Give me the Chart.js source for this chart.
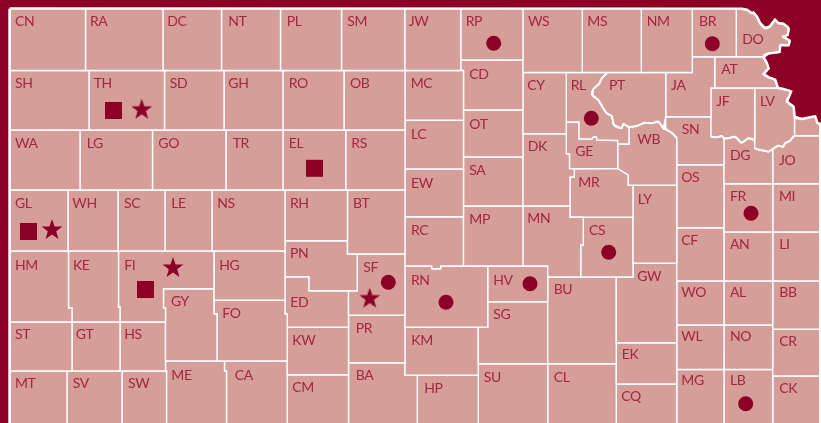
<!DOCTYPE html>
<html>
<head>
<meta charset="utf-8">
<style>
  html, body { margin: 0; padding: 0; background: #8c0026; }
  canvas { display: block; }
</style>
<script src="https://cdn.jsdelivr.net/npm/chart.js@4"></script>
</head>
<body>
<canvas id="mapChart" width="821" height="423"></canvas>
<script>
// river stretches, shared by the counties on both sides
const riverDO = [[741.7,9],[746.7,10],[751.7,13.3],[753.3,12.7],[756.7,16.7],[760,23.3],[765,28.3],[770,26.7],[775,20],[778.3,23.3],[783.3,24],[788.3,28.3],[787.3,35],[782.7,36.7],[789.3,40.7],[788.3,45],[780,45],[779.3,51.7],[768.3,53.3],[763.3,56.7]];
const riverAT = [[766.7,63.3],[768.3,68.3],[763.3,74],[768.3,77.3],[775,80],[777.3,86.7],[777.5,88]];
const riverLV = [[783.3,89.3],[790.7,91.7],[786.7,101.7],[793.3,106.7],[794.5,117]];
const riverWY = [[801.7,119.3],[806.7,118.3],[815,116.7],[817.3,123.3],[819.7,124]];
const riverPT = [[607.7,72.5],[601.7,78.3],[599.3,83.3],[593.3,89.3],[592.3,95],[598.3,100],[602.7,107.3],[606.7,113.3],[611.7,116],[614,125],[621.7,128.3],[623.3,124],[629,127]];
const riverWB = [[636.7,126],[645,122.7],[651.7,123.3],[658.3,121.7],[663.3,128.3],[667,130],[672,133],[676.7,138]];
const riverJF = [[711,136.7],[716.7,137.3],[721.7,136],[724,138.3]];
const riverDG = [[728.3,138.3],[735,136.7],[741.7,142.7],[748.3,138.3],[754.7,140]];
const riverLVs = [[754.7,148.3],[760,150],[765,150.7],[768.3,151.7],[772.7,149]];
const riverJO = [[778.3,145.7],[783.3,146.7],[785,143.3],[790,140.7],[793.3,136.7],[794.5,135.7]];

const countyNames = [
  'CN','RA','DC','NT','PL','SM','JW','RP','WS','MS','NM','BR','DO',
  'SH','TH','SD','GH','RO','OB','MC','CD','CY','RL','PT','JA','AT','JF','LV','',
  'WA','LG','GO','TR','EL','RS','LC','OT','DK','GE','WB','SN','DG','JO',
  'GL','WH','SC','LE','NS','RH','BT','EW','SA','MP','MN','MR','LY','OS','FR','MI',
  'RC','CS','CF','AN','LI',
  'HM','KE','FI','HG','PN','SF','RN','HV','GW','BU','GY','FO','ED','SG','WO','AL','BB',
  'ST','GT','HS','KW','PR','KM','EK','WL','NO','CR',
  'MT','SV','SW','ME','CA','CM','BA','HP','SU','CL','CQ','MG','LB','CK'
];

// two corners = a plain box, otherwise the full outline
const countyOutlines = [
  [[10.2,9],[85.5,70.5]], [[85.5,9],[163,70.5]], [[163,9],[221.5,70.5]], [[221.5,9],[280.5,70.5]],
  [[280.5,9],[341.5,70.5]], [[341.5,9],[404.7,70.5]], [[404.7,9],[460.7,70.5]], [[460.7,9],[523,60]],
  [[523,9],[582.3,72.5]], [[582.3,9],[641.3,72.5]], [[641.3,9],[692.3,72.5]], [[692.3,9],[736.3,56.7]],
  [[736.3,9],...riverDO,[736.3,56.7]],

  [[10.2,70.5],[89,130]], [[89,70.5],[164.5,130]], [[164.5,70.5],[224,130]], [[224,70.5],[283,130]],
  [[283,70.5],[344,130]], [[344,70.5],[405,130]], [[405,70.5],[463.5,120.3]],
  [[460.7,60],[523,60],[523,110],[463.5,110],[463.5,70.5],[460.7,70.5]],
  [[523,72.5],[566.3,133.7]],
  [[566.3,72.5],...riverPT,[629,144],[617.7,144],[617.7,140.5],[597,140],[596.5,137],[593,137],[592,139],[579,139],[579,122],[566.3,122]],
  [...riverPT,...riverWB.slice(0,5),[665.7,116.7],[665.7,72.5]],
  [[665.7,72.5],[692.3,72.5],[692.3,56.7],[714.7,56.7],[714.7,88],[711,88],[711,116.7],[665.7,116.7]],
  [[714.7,56.7],[763.3,56.7],...riverAT,[714.7,88]],
  [[711,88],[754.7,88],[754.7,140],...riverDG.slice().reverse().slice(1),...riverJF.slice().reverse()],
  [[754.7,88],[777.5,88],...riverLV,[794.5,135.7],...riverJO.slice().reverse(),[772.7,149],...riverLVs.slice().reverse(),[754.7,140]],
  [[794.5,117],...riverWY,[819.7,135.7],[794.5,135.7]],

  [[10.2,130],[80,190]], [[80,130],[152.5,190]], [[152.5,130],[226,190]], [[226,130],[283,190]],
  [[283,130],[345.7,190]], [[345.7,130],[405,190]], [[405,120.3],[463.5,169]], [[463.5,110],[523,157]],
  [[523,133.7],[566.3,133.7],[566.3,154],[569.5,154],[569.5,168.7],[574.3,168.7],[574.3,177],[570,177],[570,206],[523,206]],
  [[566.3,122],[579,122],[579,139],[592,139],[593,137],[596.5,137],[597,140],[617.7,140.5],[617.7,168.5],[569.5,168.7],[569.5,154],[566.3,154]],
  [[629,127],...riverWB,[676.7,185.3],[628.3,185.3],[628.3,175],[617.7,168.5],[617.7,144],[629,144]],
  [[665.7,116.7],[711,116.7],...riverJF,[724,164.7],[676.7,164.7],[676.7,138],[672,133],[667,130],[665.7,128]],
  [[724,138.3],...riverDG,[754.7,148.3],...riverLVs,[772.7,183.7],[724,183.7]],
  [[772.7,149],...riverJO,[819.7,135.7],[819.7,183.7],[772.7,183.7]],

  [[10.2,190],[68,251]], [[68,190],[118,251]], [[118,190],[165,251]], [[165,190],[212,251]], [[212,190],[285,251]],
  [[285,190],[347.5,240.7]], [[347.5,190],[405,254]], [[405,169],[463.5,216.7]], [[463.5,157],[523,206]],
  [[463.5,206],[523,266]],
  [[523,206],[570,206],[570,217.3],[583.3,217.3],[583.3,245],[580.7,245],[580.7,277],[547.7,277],[547.7,266],[523,266]],
  [[574.3,168.7],[617.7,168.5],[628.3,175],[628.3,185.3],[633,185.3],[633,217.3],[570,217.3],[570,177],[574.3,177]],
  [[633,185.3],[676.7,263.3]], [[676.7,164.7],[724,227.7]], [[724,183.7],[772.7,232]], [[772.7,183.7],[819.7,232]],

  [[405,216.7],[463.5,216.7],[463.5,266],[440.7,266],[440.7,268.7],[432,268.7],[431.7,266],[405,266]],
  [[583.3,217.3],[633,217.3],[633,277],[580.7,277],[580.7,245],[583.3,245]],
  [[676.7,227.7],[724,281]], [[724,232],[772.7,281]], [[772.7,232],[819.7,281]],

  [[10.2,251],[68.5,251],[68.5,308],[72,308],[72,322],[10.2,322]],
  [[68.5,251],[118.5,251],[118.5,307],[120,307],[120,322],[72,322],[72,308],[68.5,308]],
  [[118.5,251],[214,251],[214,288.7],[163.5,288.7],[163.5,308],[165.5,308],[165.5,322],[120,322],[120,307],[118.5,307]],
  [[214,251],[285,300.3]],
  [[285,240.7],[347.5,240.7],[347.5,254],[357.3,254],[357.3,290.7],[309,290.7],[309,276.7],[285,276.7]],
  [[357.3,254],[405,254],[405,315.3],[348.5,315.3],[348.5,290.7],[357.3,290.7]],
  [[405,266],[431.7,266],[432,268.7],[440.7,268.7],[440.7,266],[487.7,266],[487.7,327.3],[405,327.3]],
  [[487.7,266],[547.7,301.7]],
  [[633,263.3],[676.7,263.3],[676.7,342.7],[616.3,342.7],[616.3,277],[633,277]],
  [[547.7,277],[616.3,363.7]],
  [[163.5,288.7],[214,288.7],[214,314],[217,314],[217,361],[165.5,361],[165.5,308],[163.5,308]],
  [[214,300.3],[285,300.3],[285,314],[287.3,314],[287.3,361],[217,361],[217,314],[214,314]],
  [[285,276.7],[309,276.7],[309,290.7],[348.5,290.7],[348.5,327.3],[287.3,327.3],[287.3,314],[285,314]],
  [[487.7,301.7],[547.7,301.7],[547.7,363.7],[478.3,363.7],[478.3,327.3],[487.7,327.3]],
  [[676.7,281],[724,325]], [[724,281],[772.7,325]], [[772.7,281],[819.7,329.3]],

  [[10.2,322],[72,371]], [[72,322],[120,371]], [[120,322],[165.5,371]],
  [[287.3,327.3],[348.5,374.7]], [[348.5,315.3],[405,362.7]], [[405,327.3],[478.3,375.3]],
  [[616.3,342.7],[676.7,384]], [[676.7,325],[724,369.5]], [[724,325],[772.7,369.5]], [[772.7,329.3],[819.7,376]],

  [[10.2,371],[67,425]], [[67,371],[122,425]], [[122,371],[166.5,425]],
  [[165.5,361],[224.5,361],[224.5,371],[226.5,371],[226.5,425],[166.5,425],[166.5,371],[165.5,371]],
  [[224.5,361],[287.3,361],[287.3,425],[226.5,425],[226.5,371],[224.5,371]],
  [[287.3,374.7],[348.5,425]],
  [[348.5,362.7],[405,362.7],[405,375.3],[417.3,375.3],[417.3,425],[348.5,425]],
  [[417.3,375.3],[478.3,425]], [[478.3,363.7],[547.7,425]], [[547.7,363.7],[616.3,425]], [[616.3,384],[676.7,425]],
  [[676.7,369.5],[724,425]], [[724,369.5],[772.7,425]], [[772.7,376],[819.7,425]]
];

const stateOutline = [[9.8,8.8],...riverDO,...riverAT,...riverLV,...riverWY,[823,124],[823,427],[9.8,427]];

// the river lines sit on top of the county borders, a bit heavier
const riverLines = [
  [...riverDO,...riverAT,...riverLV,...riverWY],
  [...riverPT,...riverWB],
  [...riverJF,...riverDG],
  [...riverLVs,...riverJO]
];

const labelNames = ['CN','RA','DC','NT','PL','SM','JW','RP','WS','MS','NM','BR','DO','SH','TH','SD','GH','RO','OB','MC','CD','CY','RL','PT','JA','AT','JF','LV','WA','LG','GO','TR','EL','RS','LC','OT','DK','SN','WB','GE','DG','JO','EW','SA','MR','OS','LY','FR','MI','GL','WH','SC','LE','NS','RH','BT','MP','MN','RC','CS','HM','KE','FI','HG','PN','SF','RN','HV','BU','GW','CF','AN','LI','GY','FO','ED','SG','PR','KM','KW','WO','AL','BB','ST','GT','HS','WL','NO','CR','EK','MT','SV','SW','ME','CA','CM','BA','HP','SU','CL','MG','LB','CQ','CK'];
const labelX = [15,90,167.3,228.3,286.7,347.3,408.7,465.7,528,587.3,646.7,699,742.3,15,93.7,169.7,228.3,288.7,350,410.7,469.3,527.3,570.7,609,671,721.3,716.3,760,15,86.7,158.3,232.7,288.7,351.3,411,469.3,527.7,681.7,637.3,575.3,730,779,411,469.3,578.3,681.3,637.7,730,779,15,72.3,124,171.3,217.3,290,353,469.3,527.3,411,589,15,73,124.3,219.3,290,363.3,411,493.3,553.7,637.3,681.3,730,779.3,171,222.3,290.3,493.3,355.7,411.3,292.3,681.3,730,779.3,15,75.7,124.3,681.3,730,779.3,621.7,15,72.7,128,171.3,234.7,292.3,355.7,424.3,483.7,553.7,681.3,730,621.3,779.3];
const labelY = [26,26,26,26,26,26,26,26,26,26,26,26,44,88,88,88,88,88,88,88,79,90,90,90,90,74,106,106,148,148,148,148,148,148,139,129,151,134,144,156,160,165,188,175,187,182,204,201,201,208,208,208,208,208,208,208,224,223,235,235,270,270,270,270,258,272,285,285,294,281,245,249,249,306,318,307,319,333,345,345,297,297,297,339,339,339,341,341,346,359,388,388,388,380,380,392,380,393,382,382,385,385,401,393];

const squareX = [113.5,314.5,28.5,145.5];
const squareY = [110.5,168.3,231.5,289.5];
const starX = [141.7,52,173,369.7];
const starY = [109.8,230,268,298.6];
const circleX = [493.7,712.3,591.3,388.3,446,530,751,608.7,745.7];
const circleY = [43.3,43.7,118.3,282.3,302.3,283.7,213.3,252.3,403.7];

const darkRed = '#8c0026';
const countyPink = '#d59e98';
const labelRed = '#a52641';

function toPoints(outline) {
  let pts = outline;
  if (outline.length === 2) {
    const [a, b] = outline;
    pts = [a, [b[0], a[1]], b, [a[0], b[1]]];
  }
  pts = pts.concat([pts[0]]);
  return pts.map(p => ({ x: p[0], y: p[1] }));
}

function zipXY(xs, ys) {
  return xs.map((x, i) => ({ x: x, y: ys[i] }));
}

// chart.js only has an asterisk 'star', so the filled one goes on a small canvas
function makeStar(outerR, innerR) {
  const c = document.createElement('canvas');
  c.width = 26;
  c.height = 26;
  const g = c.getContext('2d');
  g.fillStyle = darkRed;
  g.beginPath();
  for (let i = 0; i < 10; i++) {
    const r = i % 2 ? innerR : outerR;
    const a = -Math.PI / 2 + i * Math.PI / 5;
    g.lineTo(13 + r * Math.cos(a), 13 + r * Math.sin(a));
  }
  g.closePath();
  g.fill();
  return c;
}

const countyLabels = {
  id: 'countyLabels',
  afterDatasetsDraw(chart) {
    const { ctx, scales } = chart;
    ctx.save();
    ctx.font = '14px Lato';
    ctx.letterSpacing = '-0.4px';
    ctx.fillStyle = labelRed;
    ctx.textAlign = 'left';
    ctx.textBaseline = 'alphabetic';
    labelNames.forEach((name, i) => {
      ctx.fillText(name, scales.x.getPixelForValue(labelX[i]), scales.y.getPixelForValue(labelY[i]));
    });
    ctx.restore();
  }
};

const markerSets = [
  { label: 'square', data: zipXY(squareX, squareY), pointStyle: 'rect', pointRadius: 12, backgroundColor: darkRed, borderWidth: 0 },
  { label: 'star', data: zipXY(starX, starY), pointStyle: makeStar(11, 4.4), pointRadius: 11 },
  { label: 'circle', data: zipXY(circleX, circleY), pointStyle: 'circle', pointRadius: 7.5, backgroundColor: darkRed, borderWidth: 0 }
];

const riverSets = riverLines.map((line, i) => ({
  label: 'river ' + i,
  data: line.map(p => ({ x: p[0], y: p[1] })),
  showLine: true,
  borderColor: '#ffffff',
  borderWidth: 2,
  tension: 0.3,
  pointRadius: 0
}));

const countySets = countyOutlines.map((outline, i) => ({
  label: countyNames[i],
  data: toPoints(outline),
  showLine: true,
  fill: 'shape',
  backgroundColor: countyPink,
  borderColor: '#ffffff',
  borderWidth: 1.4,
  borderJoinStyle: 'miter',
  tension: 0,
  pointRadius: 0
}));

const stateSet = {
  label: 'state',
  data: toPoints(stateOutline),
  showLine: true,
  fill: 'shape',
  backgroundColor: '#ffffff',
  borderColor: '#ffffff',
  borderWidth: 3,
  tension: 0,
  pointRadius: 0
};

new Chart(document.getElementById('mapChart').getContext('2d'), {
  type: 'scatter',
  data: { datasets: [...markerSets, ...riverSets, ...countySets, stateSet] },
  options: {
    responsive: false,
    animation: false,
    events: [],
    layout: { padding: 0, autoPadding: false },
    plugins: { legend: { display: false }, tooltip: { enabled: false } },
    scales: {
      x: { type: 'linear', display: false, min: 0, max: 821 },
      y: { type: 'linear', display: false, min: 0, max: 423, reverse: true }
    }
  },
  plugins: [countyLabels]
});
</script>
</body>
</html>
